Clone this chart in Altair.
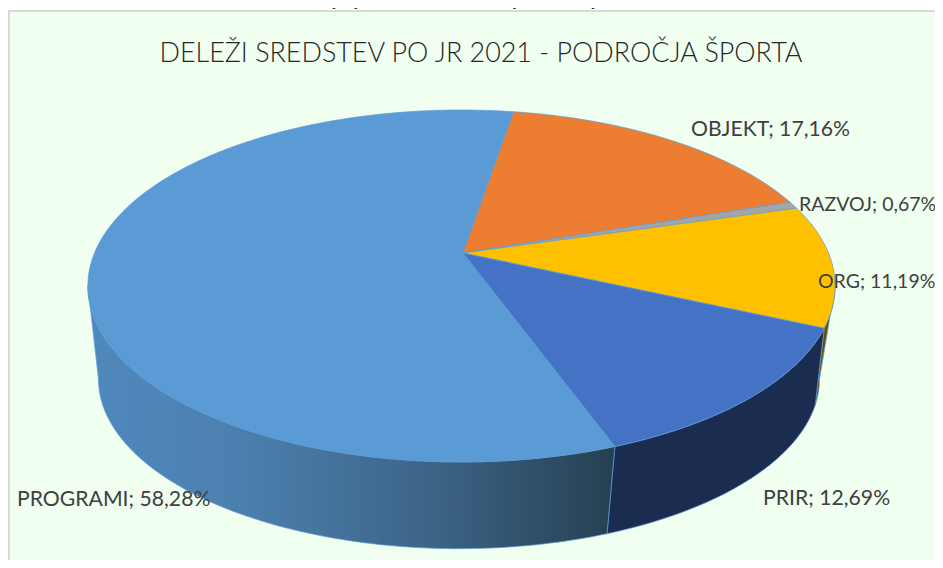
import math
import altair as alt
import pandas as pd

names = ["PROGRAMI", "OBJEKT", "RAZVOJ", "ORG", "PRIR"]
shares = [58.28, 17.16, 0.67, 11.19, 12.69]
top_colors = ["#5b9bd5", "#ed7d31", "#a5a5a5", "#ffc000", "#4472c4"]
side_colors = {"ORG": "#6b5000", "PRIR": "#1a2d50"}

main_title = "DELEŽI SREDSTEV PO JR 2021 - PODROČJA ŠPORTA"
page_heading = "Analiza izvajanja LPŠ v Občini Gorenja vas - Poljane v letu 2021"

W, H = 927, 552
OFF = 8
K = 0.1875


def top_xy(deg):
    t = math.radians(deg)
    u, v = math.sin(t), -math.cos(t)
    d = 1 - K * v
    return 461.5 - OFF + 367 * u / d, 253 - OFF + 169.8 * v / d


def low_xy(deg):
    t = math.radians(deg)
    u, v = math.sin(t), -math.cos(t)
    d = 1 - K * v
    return 459 - OFF + 0.965 * 367 * u / d, 347 - OFF + 0.965 * 169.8 * v / d


def arc(fn, a, b):
    n = max(2, int(abs(b - a)) + 2)
    return [fn(a + (b - a) * i / (n - 1)) for i in range(n)]


x_scale = alt.Scale(domain=[0, W], range=[0, W])
y_scale = alt.Scale(domain=[0, H], range=[0, H])


def poly(points, fill, stroke="#5b9bd5", width=0.7):
    pts = list(points) + [points[0]]
    df = pd.DataFrame({"x": [p[0] for p in pts], "y": [p[1] for p in pts], "i": range(len(pts))})
    return alt.Chart(df).mark_line(
        filled=True, fill=fill, stroke=stroke, strokeWidth=width, interpolate="linear"
    ).encode(
        x=alt.X("x:Q", scale=x_scale, axis=None),
        y=alt.Y("y:Q", scale=y_scale, axis=None),
        order="i:Q",
    )


def label(text, x, y, size, align="left", color="#404040", weight=400):
    df = pd.DataFrame({"x": [x - OFF], "y": [y - OFF]})
    return alt.Chart(df).mark_text(
        text=text, font="Lato", fontSize=size, align=align, baseline="alphabetic",
        color=color, fontWeight=weight,
    ).encode(
        x=alt.X("x:Q", scale=x_scale, axis=None),
        y=alt.Y("y:Q", scale=y_scale, axis=None),
    )


start = 9.7
bounds = {}
a = start
for n, s in zip(["OBJEKT", "RAZVOJ", "ORG", "PRIR", "PROGRAMI"], [shares[1], shares[2], shares[3], shares[4], shares[0]]):
    bounds[n] = (a, a + s * 3.6)
    a += s * 3.6

frame = alt.Chart(pd.DataFrame({"a": [0]})).mark_rect(
    fill="#f0fff0", stroke="#d9d9d9", strokeWidth=2
).encode(x=alt.value(1), x2=alt.value(W + 40), y=alt.value(3), y2=alt.value(H + 40))

layers = [frame]


def side(a, b, fill, low_a=None, low_b=None):
    low_a = a if low_a is None else low_a
    low_b = b if low_b is None else low_b
    return poly(arc(top_xy, a, b) + arc(low_xy, low_b, low_a), fill)


# the lower rim is foreshortened on the right, so the ORG/PRIR edge meets it a few degrees earlier
org_end = bounds["ORG"][1]
low_shift = 4.8
right_tangent = 100.8
layers.append(side(right_tangent, org_end, side_colors["ORG"], right_tangent, org_end - low_shift))
layers.append(side(org_end, bounds["PRIR"][1], side_colors["PRIR"], org_end - low_shift, bounds["PRIR"][1]))
gradient = alt.Gradient(
    gradient="linear", x1=0, x2=1, y1=0, y2=0,
    stops=[
        alt.GradientStop(color="#5088bd", offset=0),
        alt.GradientStop(color="#4b7fae", offset=0.3),
        alt.GradientStop(color="#3d6487", offset=0.65),
        alt.GradientStop(color="#264052", offset=1),
    ],
)
layers.append(side(bounds["PROGRAMI"][0], 259.2, gradient))

apex = (463 - OFF, 253 - OFF)
for n, c in zip(names, top_colors):
    a0, a1 = bounds[n]
    layers.append(poly([apex] + arc(top_xy, a0, a1), c))

layers.append(label(main_title, 481, 62, 26.9, "center", "#262626", 300))
layers.append(label(page_heading, 479, 6, 16.8, "center", "#202020"))


def pct(i):
    return f"{names[i]}; {shares[i]:.2f}%".replace(".", ",")


layers.append(label(pct(1), 691, 136, 21.2))
layers.append(label(pct(2), 799, 211, 19.5))
layers.append(label(pct(3), 818, 288, 19.5))
layers.append(label(pct(4), 763, 505, 21.2))
layers.append(label(pct(0), 17, 506, 21.2))

chart = alt.layer(*layers).properties(
    width=W, height=H, padding=0,
    autosize=alt.AutoSizeParams(type="none"),
).configure_view(stroke=None)

chart.save("out.html", embed_options={"renderer": "svg", "actions": False})
